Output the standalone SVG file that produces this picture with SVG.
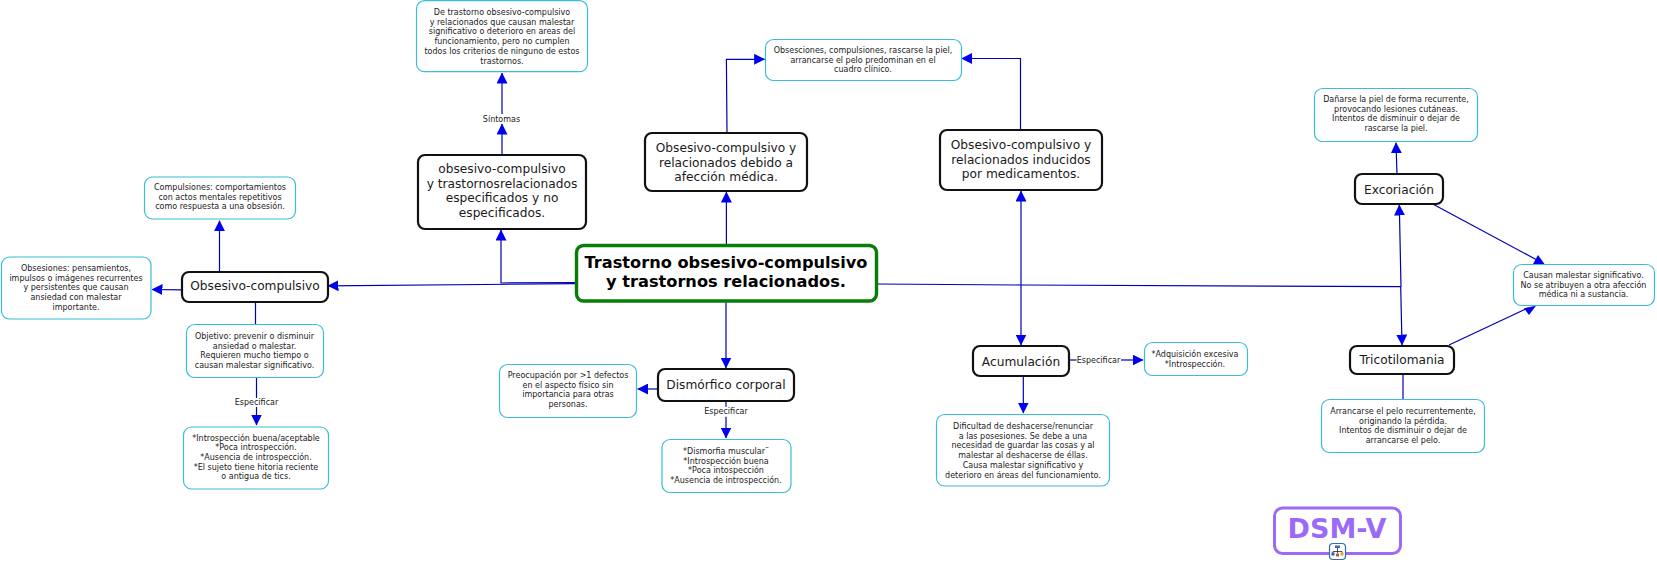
<svg xmlns="http://www.w3.org/2000/svg" width="1657" height="564" viewBox="0 0 1657 564">
<style>
text{font-family:"DejaVu Sans","Liberation Sans",sans-serif;text-anchor:middle;fill:#1a1a1a}
.leaf rect{fill:#fff;stroke:#3bbcd9;stroke-width:1.2}
.leaf text{font-size:8px}
.node rect{fill:#fff;stroke:#111;stroke-width:2.2}
.node text{font-size:12.2px}
.lbl{font-size:8px}
.c{fill:none;stroke:#0000b4;stroke-width:1.2}
.h{fill:#0000ee}
</style>
<defs>
<marker id="a" markerUnits="userSpaceOnUse" markerWidth="11" markerHeight="11" refX="10.500" refY="5.500" orient="auto"><path d="M0,0L11,5.500L0,11z" fill="#0000ee"/></marker>
</defs>
<g id="connectors">
<path class="c" marker-end="url(#a)" d="M575,283.7L328,285.8"/>
<path class="c" marker-end="url(#a)" d="M182,289.8L152,289.5"/>
<path class="c" marker-end="url(#a)" d="M219.5,272V220.7"/>
<path class="c" d="M255.5,302V324"/>
<path class="c" d="M256.5,378V398"/>
<path class="c" marker-end="url(#a)" d="M256.5,407V425"/>
<text class="lbl" x="256.5" y="405">Especificar</text>
<path class="c" marker-end="url(#a)" d="M575,282.7L501,283V230"/>
<path class="c" marker-end="url(#a)" d="M502,155V124"/>
<path class="c" marker-end="url(#a)" d="M502,114V73"/>
<text class="lbl" x="501.5" y="121.500">Síntomas</text>
<path class="c" marker-end="url(#a)" d="M726.400,244V192"/>
<path class="c" marker-end="url(#a)" d="M727,133L726.400,59.300H764.600"/>
<path class="c" marker-end="url(#a)" d="M1020.500,130V58.500H961.700"/>
<path class="c" d="M878,284L1021,285L1401,286.700"/>
<path class="c" marker-end="url(#a)" d="M1021,285V191"/>
<path class="c" marker-end="url(#a)" d="M1021,285V345"/>
<path class="c" marker-end="url(#a)" d="M1023.300,376V413"/>
<path class="c" d="M1069,360H1076.700"/>
<path class="c" marker-end="url(#a)" d="M1121,360H1143"/>
<text class="lbl" x="1098.500" y="362.500">Especificar</text>
<path class="c" marker-end="url(#a)" d="M726,302V368"/>
<path class="c" marker-end="url(#a)" d="M658,389H637.700"/>
<path class="c" d="M726,401V406.700"/>
<path class="c" marker-end="url(#a)" d="M726,416.700V438"/>
<text class="lbl" x="726" y="414">Especificar</text>
<path class="c" marker-end="url(#a)" d="M1397,174L1396,142.700"/>
<path class="c" marker-end="url(#a)" d="M1401,286.700L1399.300,205"/>
<path class="c" marker-end="url(#a)" d="M1400.700,286.700L1402,345"/>
<path class="c" d="M1432.700,204L1537,260"/>
<polygon class="h" points="1538,255 1544.500,264 1533,264"/>
<path class="c" d="M1449,345L1528,308"/>
<polygon class="h" points="1524,308.300 1536,305.700 1529,315"/>
<path class="c" d="M1403,374V399"/>
</g>
<g id="n-main">
<rect x="576.500" y="245.500" width="300" height="55.500" rx="7" fill="#fff" stroke="#087d08" stroke-width="3.400"/>
<text x="726" y="268" font-size="16.200" font-weight="700" style="fill:#000"><tspan x="726">Trastorno obsesivo-compulsivo</tspan><tspan x="726" dy="19.300">y trastornos relacionados.</tspan></text>
</g>
<g id="n-oc" class="node"><rect x="182" y="272" width="146" height="30" rx="7"/><text x="255" y="290">Obsesivo-compulsivo</text></g>
<g id="n-esp" class="node"><rect x="418" y="155" width="168" height="74" rx="7"/><text y="173"><tspan x="502">obsesivo-compulsivo</tspan><tspan x="502" dy="14.700">y trastornosrelacionados</tspan><tspan x="502" dy="14.700">especificados y no</tspan><tspan x="502" dy="14.700">especificados.</tspan></text></g>
<g id="n-med" class="node"><rect x="645" y="133" width="162" height="58" rx="7"/><text y="152"><tspan x="726">Obsesivo-compulsivo y</tspan><tspan x="726" dy="14.700">relacionados debido a</tspan><tspan x="726" dy="14.700">afección médica.</tspan></text></g>
<g id="n-ind" class="node"><rect x="940" y="130" width="162" height="60" rx="7"/><text y="149"><tspan x="1021">Obsesivo-compulsivo y</tspan><tspan x="1021" dy="14.700">relacionados inducidos</tspan><tspan x="1021" dy="14.700">por medicamentos.</tspan></text></g>
<g id="n-dis" class="node"><rect x="658" y="369" width="136" height="32" rx="7"/><text x="726" y="389">Dismórfico corporal</text></g>
<g id="n-acu" class="node"><rect x="973" y="346" width="96" height="30" rx="7"/><text x="1021" y="366">Acumulación</text></g>
<g id="n-exc" class="node"><rect x="1355" y="174" width="88" height="30" rx="7"/><text x="1399" y="194">Excoriación</text></g>
<g id="n-tri" class="node"><rect x="1350" y="346" width="104" height="28" rx="7"/><text x="1402" y="364">Tricotilomania</text></g>
<g id="l-comp" class="leaf"><rect x="144.500" y="177" width="151" height="42" rx="8"/><text y="190"><tspan x="220">Compulsiones: comportamientos</tspan><tspan x="220" dy="9.700">con actos mentales repetitivos</tspan><tspan x="220" dy="9.700">como respuesta a una obsesión.</tspan></text></g>
<g id="l-obs" class="leaf"><rect x="1.500" y="257" width="149.500" height="62" rx="8"/><text y="271"><tspan x="76">Obsesiones: pensamientos,</tspan><tspan x="76" dy="9.700">impulsos o imágenes recurrentes</tspan><tspan x="76" dy="9.700">y persistentes que causan</tspan><tspan x="76" dy="9.700">ansiedad con malestar</tspan><tspan x="76" dy="9.700">importante.</tspan></text></g>
<g id="l-obj" class="leaf"><rect x="186.500" y="324.500" width="137" height="53" rx="8"/><text y="339"><tspan x="254.500">Objetivo: prevenir o disminuir</tspan><tspan x="254.500" dy="9.700">ansiedad o malestar.</tspan><tspan x="254.500" dy="9.700">Requieren mucho tiempo o</tspan><tspan x="254.500" dy="9.700">causan malestar significativo.</tspan></text></g>
<g id="l-int" class="leaf"><rect x="183.500" y="427" width="145" height="62" rx="8"/><text y="440.500"><tspan x="256">*Introspección buena/aceptable</tspan><tspan x="256" dy="9.700">*Poca introspección.</tspan><tspan x="256" dy="9.700">*Ausencia de introspección.</tspan><tspan x="256" dy="9.700">*El sujeto tiene hitoria reciente</tspan><tspan x="256" dy="9.700">o antigua de tics.</tspan></text></g>
<g id="l-det" class="leaf"><rect x="416.500" y="0.700" width="171" height="71" rx="8"/><text y="15"><tspan x="502">De trastorno obsesivo-compulsivo</tspan><tspan x="502" dy="9.700">y relacionados que causan malestar</tspan><tspan x="502" dy="9.700">significativo o deterioro en areas del</tspan><tspan x="502" dy="9.700">funcionamiento, pero no cumplen</tspan><tspan x="502" dy="9.700">todos los criterios de ninguno de estos</tspan><tspan x="502" dy="9.700">trastornos.</tspan></text></g>
<g id="l-pre" class="leaf"><rect x="765.500" y="39.500" width="196" height="41" rx="8"/><text y="53"><tspan x="863">Obsesciones, compulsiones, rascarse la piel,</tspan><tspan x="863" dy="9.700">arrancarse el pelo predominan en el</tspan><tspan x="863" dy="9.700">cuadro clínico.</tspan></text></g>
<g id="l-pro" class="leaf"><rect x="499.500" y="364.500" width="137" height="53" rx="8"/><text y="378"><tspan x="568">Preocupación por &gt;1 defectos</tspan><tspan x="568" dy="9.700">en el aspecto físico sin</tspan><tspan x="568" dy="9.700">importancia para otras</tspan><tspan x="568" dy="9.700">personas.</tspan></text></g>
<g id="l-dism" class="leaf"><rect x="662" y="439.500" width="129" height="53" rx="8"/><text y="454"><tspan x="726">*Dismorfia muscular¨</tspan><tspan x="726" dy="9.700">*Introspección buena</tspan><tspan x="726" dy="9.700">*Poca intospección</tspan><tspan x="726" dy="9.700">*Ausencia de introspección.</tspan></text></g>
<g id="l-dif" class="leaf"><rect x="936.500" y="414.500" width="173" height="71.500" rx="8"/><text y="429"><tspan x="1023">Dificultad de deshacerse/renunciar</tspan><tspan x="1023" dy="9.700">a las posesiones. Se debe a una</tspan><tspan x="1023" dy="9.700">necesidad de guardar las cosas y al</tspan><tspan x="1023" dy="9.700">malestar al deshacerse de éllas.</tspan><tspan x="1023" dy="9.700">Causa malestar significativo y</tspan><tspan x="1023" dy="9.700">deterioro en áreas del funcionamiento.</tspan></text></g>
<g id="l-adq" class="leaf"><rect x="1144.500" y="342.500" width="103" height="33" rx="8"/><text y="357"><tspan x="1195">*Adquisición excesiva</tspan><tspan x="1195" dy="9.700">*Introspección.</tspan></text></g>
<g id="l-dan" class="leaf"><rect x="1314.500" y="88.500" width="163" height="53" rx="8"/><text y="102"><tspan x="1396">Dañarse la piel de forma recurrente,</tspan><tspan x="1396" dy="9.700">provocando lesiones cutáneas.</tspan><tspan x="1396" dy="9.700">Intentos de disminuir o dejar de</tspan><tspan x="1396" dy="9.700">rascarse la piel.</tspan></text></g>
<g id="l-cau" class="leaf"><rect x="1513.500" y="264.500" width="141" height="41" rx="8"/><text y="278"><tspan x="1583.500">Causan malestar significativo.</tspan><tspan x="1583.500" dy="9.700">No se atribuyen a otra afección</tspan><tspan x="1583.500" dy="9.700">médica ni a sustancia.</tspan></text></g>
<g id="l-arr" class="leaf"><rect x="1321.500" y="399.500" width="163" height="53" rx="8"/><text y="414"><tspan x="1403">Arrancarse el pelo recurrentemente,</tspan><tspan x="1403" dy="9.700">originando la pérdida.</tspan><tspan x="1403" dy="9.700">Intentos de disminuir o dejar de</tspan><tspan x="1403" dy="9.700">arrancarse el pelo.</tspan></text></g>
<g id="n-dsm">
<rect x="1274.500" y="508" width="126" height="45.500" rx="8" fill="#fff" stroke="#9b6bf7" stroke-width="3"/>
<text x="1337" y="537.700" font-size="27" font-weight="700" style="fill:#9b6bf7">DSM-V</text>
<rect x="1329.500" y="543.500" width="16" height="16" rx="3.500" fill="#fff" stroke="#2f6cb5" stroke-width="1.200"/>
<path d="M1337.500,548V553M1333,553V551.500H1342V553" fill="none" stroke="#223" stroke-width="0.800"/>
<rect x="1335" y="545.500" width="5" height="2.500" fill="#3a6fb5"/>
<rect x="1331.500" y="552.500" width="3" height="3" fill="#2f5fa5"/>
<rect x="1336" y="553.500" width="3" height="3" fill="#c8503c"/>
<rect x="1340.500" y="552.500" width="3" height="3" fill="#c9b23c"/>
</g>
</svg>
